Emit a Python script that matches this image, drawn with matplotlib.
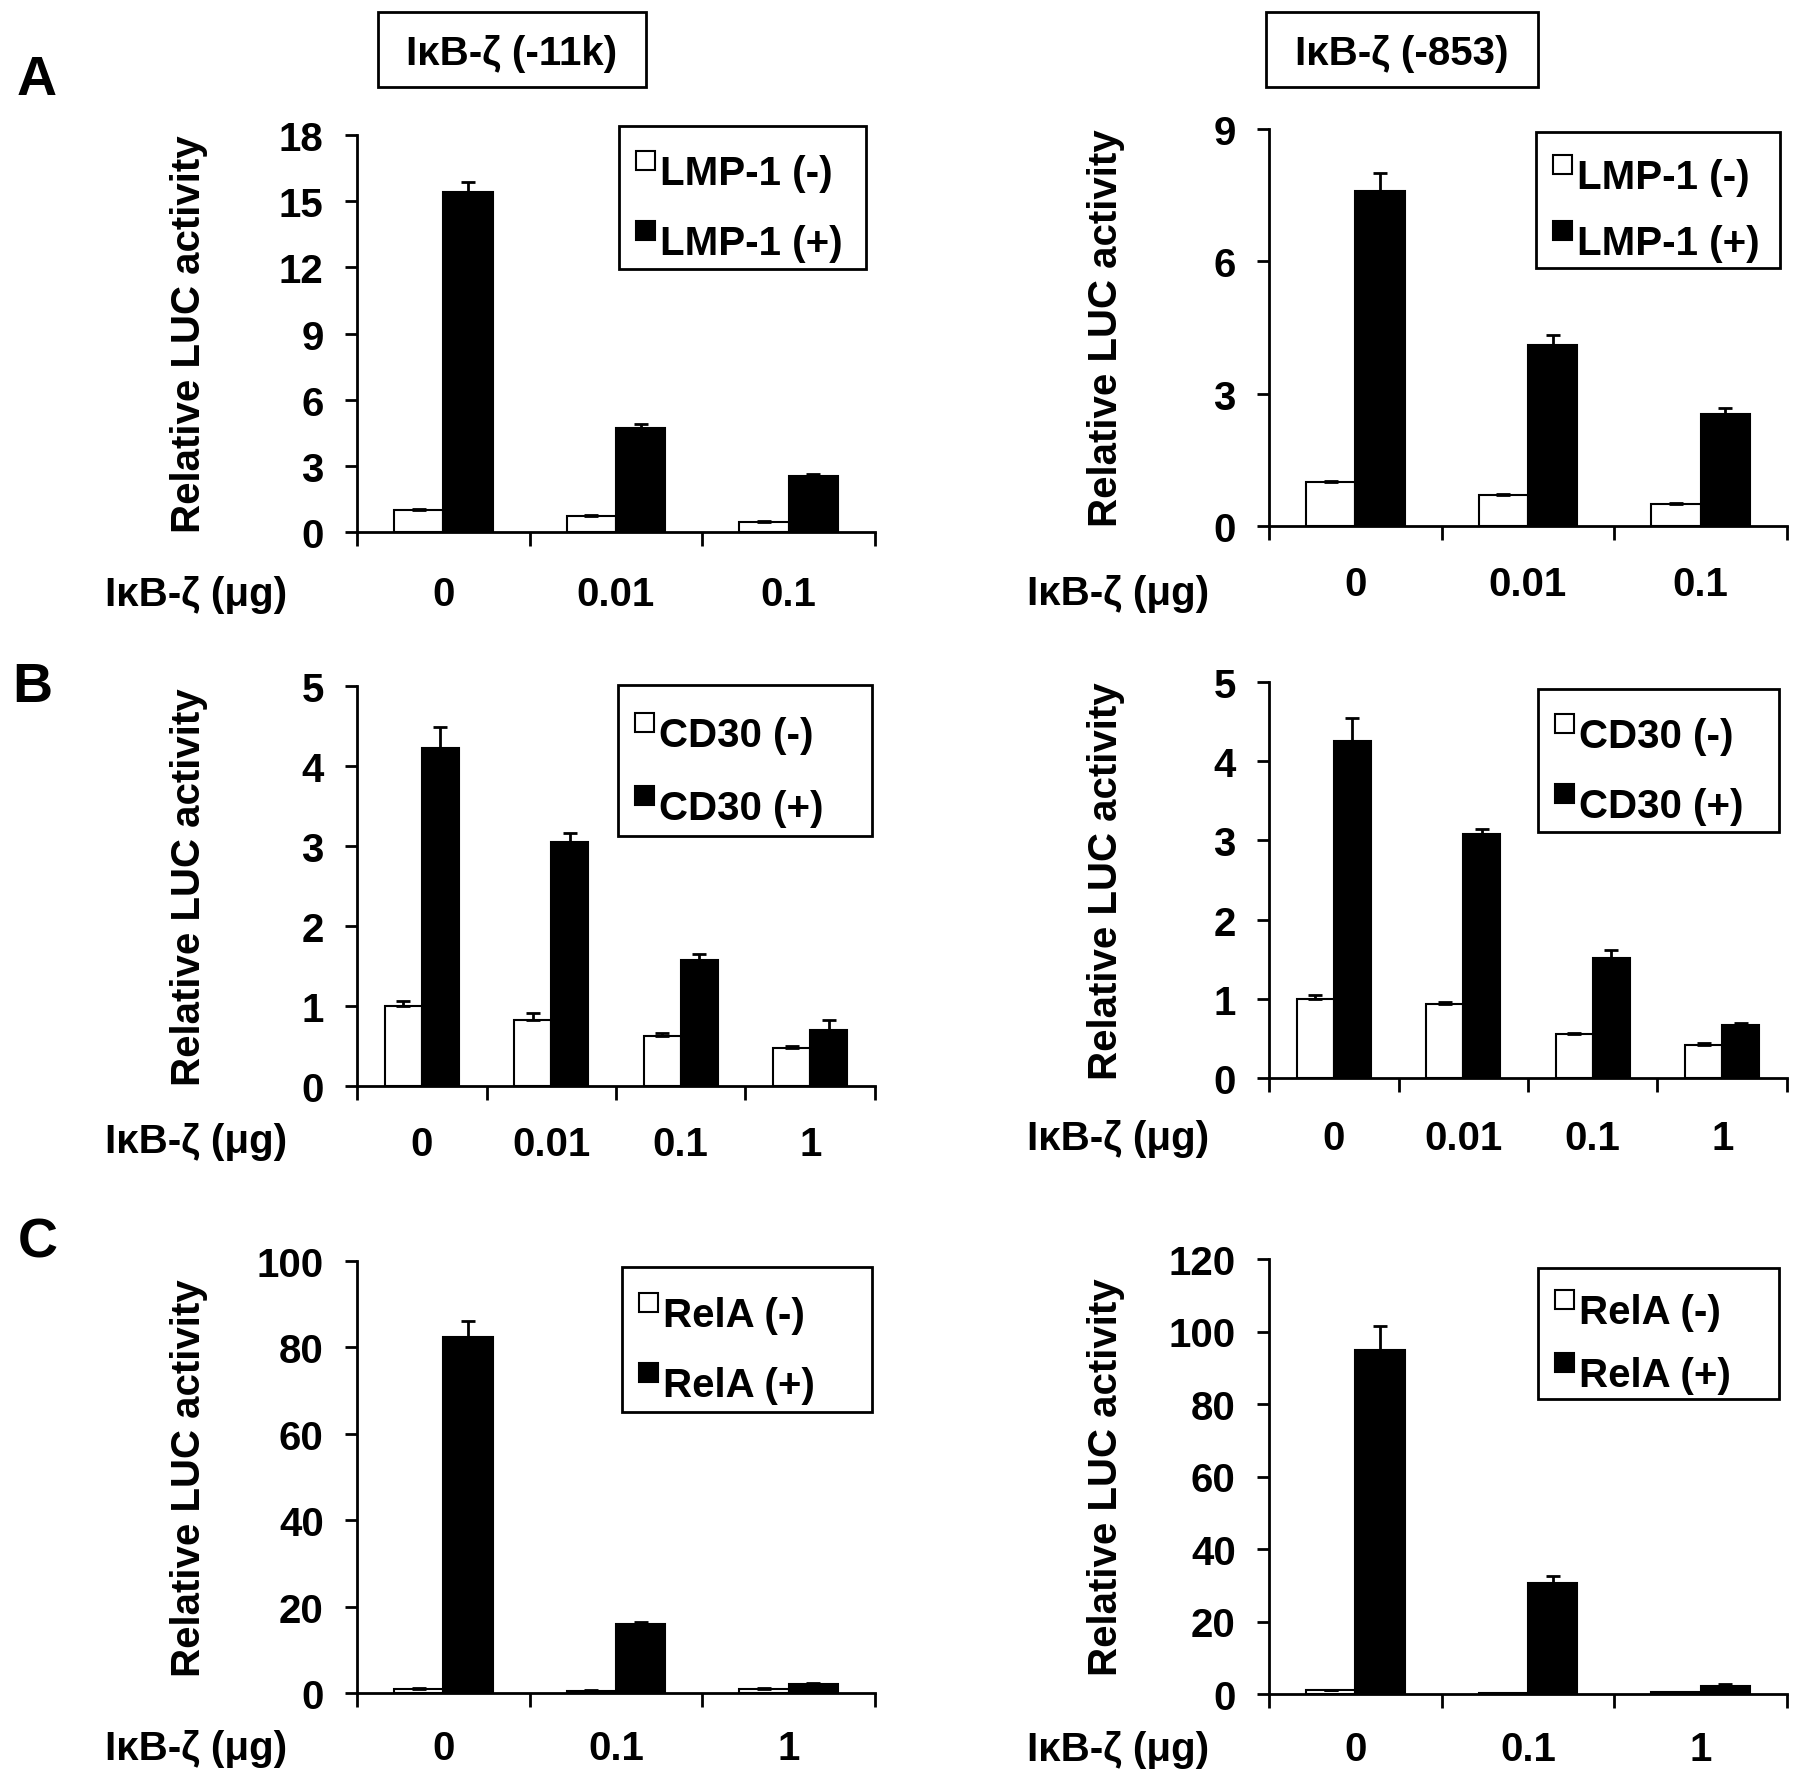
import matplotlib
matplotlib.use("Agg")
import matplotlib.pyplot as plt
from matplotlib.patches import Rectangle
import numpy as np

W, H = 1795, 1774

# data
doses_a = ["0", "0.01", "0.1"]
doses_b = ["0", "0.01", "0.1", "1"]
doses_c = ["0", "0.1", "1"]

a_left_neg = [1.0, 0.72, 0.45]
a_left_pos = [15.4, 4.7, 2.55]
a_left_neg_err = [0.04, 0.05, 0.03]
a_left_pos_err = [0.45, 0.18, 0.08]

a_right_neg = [1.0, 0.7, 0.5]
a_right_pos = [7.6, 4.1, 2.55]
a_right_neg_err = [0.03, 0.02, 0.03]
a_right_pos_err = [0.4, 0.22, 0.12]

b_left_neg = [1.0, 0.83, 0.62, 0.47]
b_left_pos = [4.22, 3.05, 1.58, 0.70]
b_left_neg_err = [0.06, 0.08, 0.04, 0.03]
b_left_pos_err = [0.27, 0.11, 0.07, 0.12]

b_right_neg = [1.0, 0.93, 0.55, 0.42]
b_right_pos = [4.25, 3.08, 1.52, 0.67]
b_right_neg_err = [0.05, 0.03, 0.02, 0.02]
b_right_pos_err = [0.3, 0.07, 0.1, 0.03]

c_left_neg = [1.0, 0.5, 1.0]
c_left_pos = [82.5, 16.0, 2.0]
c_left_neg_err = [0.1, 0.1, 0.1]
c_left_pos_err = [3.5, 0.5, 0.2]

c_right_neg = [1.0, 0.3, 0.5]
c_right_pos = [95.0, 30.5, 2.2]
c_right_neg_err = [0.1, 0.1, 0.1]
c_right_pos_err = [6.5, 2.0, 0.5]

plt.rcParams['font.family'] = ['Liberation Sans', 'DejaVu Sans']
plt.rcParams['font.weight'] = 'bold'
FS = 29

fig = plt.figure(figsize=(W / 100, H / 100), dpi=100)


def fx(x):
    return x / W


def fy(y):
    return 1 - y / H


def add_ax(x0, y0, x1, y1):
    return fig.add_axes([fx(x0), fy(y1), (x1 - x0) / W, (y1 - y0) / H])


def draw_legend(box, names):
    x0, y0, x1, y1 = box
    h = y1 - y0
    fig.add_artist(Rectangle((fx(x0), fy(y1)), (x1 - x0) / W, h / H,
                             transform=fig.transFigure, fill=False,
                             edgecolor="black", linewidth=2))
    for k, (name, col) in enumerate(zip(names, ["white", "black"])):
        cy = y0 + (0.31 if k == 0 else 0.795) * h
        sq = 19
        fig.add_artist(Rectangle((fx(x0 + 17), fy(cy)), sq / W, sq / H,
                                 transform=fig.transFigure, facecolor=col,
                                 edgecolor="black", linewidth=1.5))
        fig.text(fx(x0 + 41), fy(cy + 14), name, ha="left", va="baseline",
                 fontsize=FS, fontweight="bold")


def panel(box, doses, neg, pos, neg_err, pos_err, ymax, ystep, names, leg_box,
          tick_dy, cap_dy, cap_dx, ylab_x):
    ax = add_ax(*box)
    n = len(doses)
    x = np.arange(n) + 0.5
    w = 0.285
    ax.bar(x - w / 2, neg, w, color="white", edgecolor="black", linewidth=1.5,
           yerr=[np.zeros(n), neg_err], capsize=5,
           error_kw=dict(elinewidth=2, capthick=2), zorder=2)
    ax.bar(x + w / 2, pos, w, color="black", edgecolor="black", linewidth=1.5,
           yerr=[np.zeros(n), pos_err], capsize=5,
           error_kw=dict(elinewidth=2, capthick=2), zorder=2)
    ax.set_xlim(0, n)
    ax.set_ylim(0, ymax)
    ax.set_yticks(np.arange(0, ymax + ystep / 2, ystep))
    ax.set_xticks(x)
    ax.set_xticklabels(doses)
    ax.set_xticks(np.arange(n + 1), minor=True)
    ax.tick_params(axis="x", which="major", length=0, pad=tick_dy * 0.72,
                   labelsize=FS)
    ax.tick_params(axis="x", which="minor", length=10, width=2, direction="out")
    ax.tick_params(axis="y", length=9, width=2, direction="out", pad=15,
                   labelsize=FS)
    for lab in ax.get_xticklabels():
        lab.set_verticalalignment("center")
        lab.set_fontweight("bold")
    for lab in ax.get_yticklabels():
        lab.set_fontweight("bold")
    for s in ["top", "right"]:
        ax.spines[s].set_visible(False)
    for s in ["left", "bottom"]:
        ax.spines[s].set_linewidth(2)
    ax.set_ylabel("Relative LUC activity", fontweight="bold", fontsize=FS)
    ax.yaxis.set_label_coords((ylab_x - box[0]) / (box[2] - box[0]), 0.5)
    draw_legend(leg_box, names)
    fig.text(fx(box[0] - cap_dx), fy(box[3] + cap_dy), "I\u03baB-\u03b6 (\u03bcg)",
             ha="center", va="center", fontweight="bold", fontsize=FS)
    return ax


panel((357, 136, 875, 533), doses_a, a_left_neg, a_left_pos, a_left_neg_err,
      a_left_pos_err, 18, 3, ["LMP-1 (-)", "LMP-1 (+)"], (619, 127, 866, 270),
      62, 62, 161, 208)
panel((1269, 130, 1787, 527), doses_a, a_right_neg, a_right_pos, a_right_neg_err,
      a_right_pos_err, 9, 3, ["LMP-1 (-)", "LMP-1 (+)"], (1536, 133, 1780, 269),
      58, 67, 151, 1125)
panel((357, 687, 875, 1087), doses_b, b_left_neg, b_left_pos, b_left_neg_err,
      b_left_pos_err, 5, 1, ["CD30 (-)", "CD30 (+)"], (618, 686, 872, 837),
      58, 55, 161, 208)
panel((1269, 683, 1787, 1079), doses_b, b_right_neg, b_right_pos, b_right_neg_err,
      b_right_pos_err, 5, 1, ["CD30 (-)", "CD30 (+)"], (1538, 690, 1779, 833),
      60, 60, 151, 1125)
panel((357, 1262, 875, 1694), doses_c, c_left_neg, c_left_pos, c_left_neg_err,
      c_left_pos_err, 100, 20, ["RelA (-)", "RelA (+)"], (622, 1268, 872, 1413),
      55, 55, 161, 208)
panel((1269, 1260, 1787, 1695), doses_c, c_right_neg, c_right_pos, c_right_neg_err,
      c_right_pos_err, 120, 20, ["RelA (-)", "RelA (+)"], (1538, 1269, 1779, 1400),
      55, 55, 151, 1125)

# construct titles in boxes
for (bx0, bx1), label in [((378, 646), "I\u03baB-\u03b6 (-11k)"),
                          ((1266, 1538), "I\u03baB-\u03b6 (-853)")]:
    fig.add_artist(Rectangle((fx(bx0), fy(88)), (bx1 - bx0) / W, 75 / H,
                             transform=fig.transFigure, fill=False,
                             edgecolor="black", linewidth=2))
    fig.text(fx((bx0 + bx1) / 2), fy(54), label, ha="center", va="center",
             fontweight="bold", fontsize=FS)

# panel letters
for x, y, letter in [(37, 81, "A"), (32, 688, "B"), (38, 1243, "C")]:
    fig.text(fx(x), fy(y), letter, ha="center", va="center",
             fontweight="bold", fontsize=40)

fig.savefig("out.png", dpi=100)
